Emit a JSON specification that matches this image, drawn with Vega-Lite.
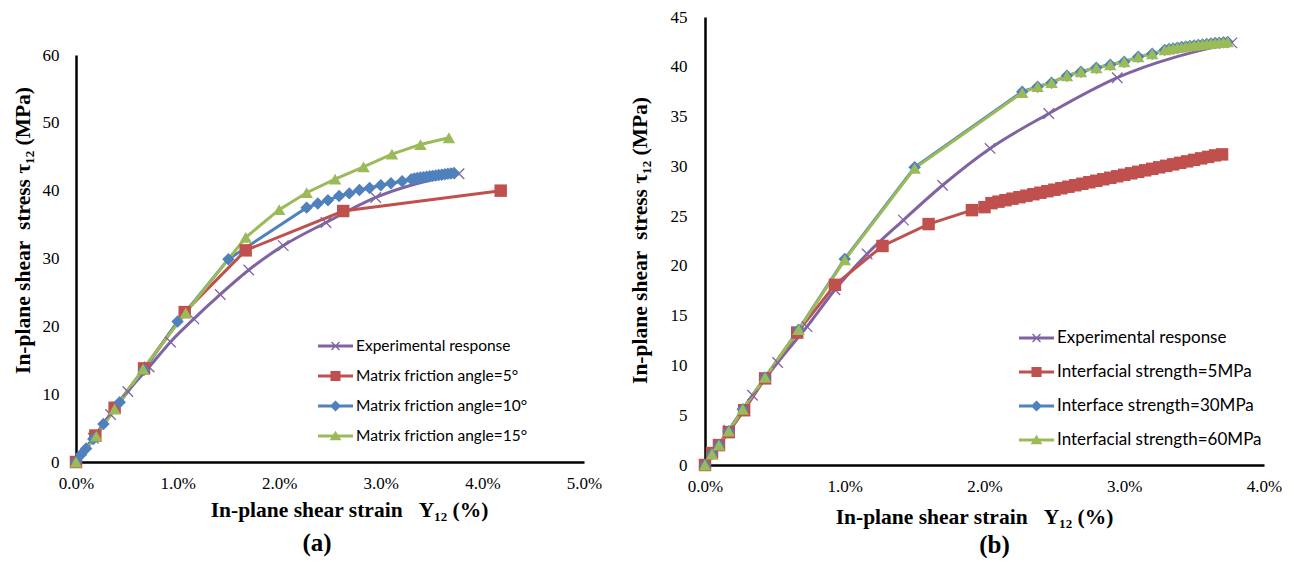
{
  "$schema": "https://vega.github.io/schema/vega-lite/v6.json",
  "background": "white",
  "padding": {"left": 12, "top": 8, "right": 0, "bottom": 0},
  "spacing": 27,
  "resolve": {"scale": {"color": "independent", "shape": "independent"}, "legend": {"color": "independent"}},
  "config": {
    "view": {"stroke": null},
    "axis": {
      "domainColor": "#000", "domainWidth": 2.5, "ticks": false, "grid": false,
      "labelFont": "Liberation Serif", "labelFontSize": 17, "labelColor": "#000",
      "labelFlush": false, "labelOverlap": false,
      "titleFont": "Liberation Serif, DejaVu Serif", "titleFontSize": 21.5, "titleFontWeight": "bold", "titleColor": "#000"
    },
    "title": {"font": "Liberation Serif", "fontWeight": "bold", "color": "#000"}
  },
  "datasets": {
    "a": [
      {"series": "Experimental response", "strain": 0, "stress": 0},
      {"series": "Experimental response", "strain": 0.17, "stress": 3.5},
      {"series": "Experimental response", "strain": 0.34, "stress": 7.0},
      {"series": "Experimental response", "strain": 0.51, "stress": 10.4},
      {"series": "Experimental response", "strain": 0.72, "stress": 14.0},
      {"series": "Experimental response", "strain": 0.93, "stress": 17.7},
      {"series": "Experimental response", "strain": 1.16, "stress": 21.1},
      {"series": "Experimental response", "strain": 1.42, "stress": 24.7},
      {"series": "Experimental response", "strain": 1.70, "stress": 28.3},
      {"series": "Experimental response", "strain": 2.04, "stress": 31.9},
      {"series": "Experimental response", "strain": 2.46, "stress": 35.3},
      {"series": "Experimental response", "strain": 2.95, "stress": 39.0},
      {"series": "Experimental response", "strain": 3.77, "stress": 42.5},
      {"series": "Matrix friction angle=5°", "strain": 0, "stress": 0},
      {"series": "Matrix friction angle=5°", "strain": 0.19, "stress": 3.9},
      {"series": "Matrix friction angle=5°", "strain": 0.38, "stress": 8.0},
      {"series": "Matrix friction angle=5°", "strain": 0.67, "stress": 13.8},
      {"series": "Matrix friction angle=5°", "strain": 1.07, "stress": 22.1},
      {"series": "Matrix friction angle=5°", "strain": 1.67, "stress": 31.2},
      {"series": "Matrix friction angle=5°", "strain": 2.63, "stress": 37.0},
      {"series": "Matrix friction angle=5°", "strain": 4.18, "stress": 40.0},
      {"series": "Matrix friction angle=10°", "strain": 0, "stress": 0},
      {"series": "Matrix friction angle=10°", "strain": 0.05, "stress": 1.1},
      {"series": "Matrix friction angle=10°", "strain": 0.1, "stress": 2.0},
      {"series": "Matrix friction angle=10°", "strain": 0.17, "stress": 3.4},
      {"series": "Matrix friction angle=10°", "strain": 0.27, "stress": 5.6},
      {"series": "Matrix friction angle=10°", "strain": 0.43, "stress": 8.8},
      {"series": "Matrix friction angle=10°", "strain": 0.67, "stress": 13.6},
      {"series": "Matrix friction angle=10°", "strain": 1.0, "stress": 20.7},
      {"series": "Matrix friction angle=10°", "strain": 1.5, "stress": 29.9},
      {"series": "Matrix friction angle=10°", "strain": 2.27, "stress": 37.5},
      {"series": "Matrix friction angle=10°", "strain": 2.38, "stress": 38.1},
      {"series": "Matrix friction angle=10°", "strain": 2.48, "stress": 38.6},
      {"series": "Matrix friction angle=10°", "strain": 2.59, "stress": 39.2},
      {"series": "Matrix friction angle=10°", "strain": 2.69, "stress": 39.6},
      {"series": "Matrix friction angle=10°", "strain": 2.79, "stress": 40.1},
      {"series": "Matrix friction angle=10°", "strain": 2.89, "stress": 40.4},
      {"series": "Matrix friction angle=10°", "strain": 3.0, "stress": 40.8},
      {"series": "Matrix friction angle=10°", "strain": 3.1, "stress": 41.1},
      {"series": "Matrix friction angle=10°", "strain": 3.21, "stress": 41.4},
      {"series": "Matrix friction angle=10°", "strain": 3.30, "stress": 41.7},
      {"series": "Matrix friction angle=10°", "strain": 3.33, "stress": 41.8},
      {"series": "Matrix friction angle=10°", "strain": 3.36, "stress": 41.87},
      {"series": "Matrix friction angle=10°", "strain": 3.39, "stress": 41.94},
      {"series": "Matrix friction angle=10°", "strain": 3.42, "stress": 42.0},
      {"series": "Matrix friction angle=10°", "strain": 3.45, "stress": 42.06},
      {"series": "Matrix friction angle=10°", "strain": 3.48, "stress": 42.12},
      {"series": "Matrix friction angle=10°", "strain": 3.51, "stress": 42.18},
      {"series": "Matrix friction angle=10°", "strain": 3.54, "stress": 42.24},
      {"series": "Matrix friction angle=10°", "strain": 3.57, "stress": 42.3},
      {"series": "Matrix friction angle=10°", "strain": 3.60, "stress": 42.36},
      {"series": "Matrix friction angle=10°", "strain": 3.63, "stress": 42.42},
      {"series": "Matrix friction angle=10°", "strain": 3.66, "stress": 42.48},
      {"series": "Matrix friction angle=10°", "strain": 3.69, "stress": 42.54},
      {"series": "Matrix friction angle=10°", "strain": 3.72, "stress": 42.6},
      {"series": "Matrix friction angle=15°", "strain": 0, "stress": 0},
      {"series": "Matrix friction angle=15°", "strain": 0.2, "stress": 3.8},
      {"series": "Matrix friction angle=15°", "strain": 0.38, "stress": 7.8},
      {"series": "Matrix friction angle=15°", "strain": 0.66, "stress": 13.7},
      {"series": "Matrix friction angle=15°", "strain": 1.08, "stress": 22.0},
      {"series": "Matrix friction angle=15°", "strain": 1.67, "stress": 33.1},
      {"series": "Matrix friction angle=15°", "strain": 2.0, "stress": 37.2},
      {"series": "Matrix friction angle=15°", "strain": 2.27, "stress": 39.7},
      {"series": "Matrix friction angle=15°", "strain": 2.55, "stress": 41.7},
      {"series": "Matrix friction angle=15°", "strain": 2.83, "stress": 43.5},
      {"series": "Matrix friction angle=15°", "strain": 3.11, "stress": 45.4},
      {"series": "Matrix friction angle=15°", "strain": 3.39, "stress": 46.8},
      {"series": "Matrix friction angle=15°", "strain": 3.67, "stress": 47.8}
    ],
    "b": [
      {"series": "Experimental response", "strain": 0, "stress": 0},
      {"series": "Experimental response", "strain": 0.17, "stress": 3.5},
      {"series": "Experimental response", "strain": 0.34, "stress": 7.0},
      {"series": "Experimental response", "strain": 0.52, "stress": 10.3},
      {"series": "Experimental response", "strain": 0.73, "stress": 13.9},
      {"series": "Experimental response", "strain": 0.93, "stress": 17.6},
      {"series": "Experimental response", "strain": 1.16, "stress": 21.2},
      {"series": "Experimental response", "strain": 1.42, "stress": 24.6},
      {"series": "Experimental response", "strain": 1.70, "stress": 28.1},
      {"series": "Experimental response", "strain": 2.04, "stress": 31.8},
      {"series": "Experimental response", "strain": 2.46, "stress": 35.3},
      {"series": "Experimental response", "strain": 2.95, "stress": 38.9},
      {"series": "Experimental response", "strain": 3.77, "stress": 42.4},
      {"series": "Interfacial strength=5MPa", "strain": 0, "stress": 0},
      {"series": "Interfacial strength=5MPa", "strain": 0.05, "stress": 1.2},
      {"series": "Interfacial strength=5MPa", "strain": 0.1, "stress": 2.0},
      {"series": "Interfacial strength=5MPa", "strain": 0.17, "stress": 3.3},
      {"series": "Interfacial strength=5MPa", "strain": 0.28, "stress": 5.5},
      {"series": "Interfacial strength=5MPa", "strain": 0.43, "stress": 8.7},
      {"series": "Interfacial strength=5MPa", "strain": 0.66, "stress": 13.3},
      {"series": "Interfacial strength=5MPa", "strain": 0.93, "stress": 18.1},
      {"series": "Interfacial strength=5MPa", "strain": 1.27, "stress": 22.0},
      {"series": "Interfacial strength=5MPa", "strain": 1.6, "stress": 24.2},
      {"series": "Interfacial strength=5MPa", "strain": 1.91, "stress": 25.6},
      {"series": "Interfacial strength=5MPa", "strain": 2.0, "stress": 25.9},
      {"series": "Interfacial strength=5MPa", "strain": 2.05, "stress": 26.3},
      {"series": "Interfacial strength=5MPa", "strain": 2.10, "stress": 26.45},
      {"series": "Interfacial strength=5MPa", "strain": 2.15, "stress": 26.6},
      {"series": "Interfacial strength=5MPa", "strain": 2.20, "stress": 26.75},
      {"series": "Interfacial strength=5MPa", "strain": 2.25, "stress": 26.9},
      {"series": "Interfacial strength=5MPa", "strain": 2.30, "stress": 27.05},
      {"series": "Interfacial strength=5MPa", "strain": 2.35, "stress": 27.2},
      {"series": "Interfacial strength=5MPa", "strain": 2.40, "stress": 27.35},
      {"series": "Interfacial strength=5MPa", "strain": 2.45, "stress": 27.5},
      {"series": "Interfacial strength=5MPa", "strain": 2.50, "stress": 27.65},
      {"series": "Interfacial strength=5MPa", "strain": 2.55, "stress": 27.8},
      {"series": "Interfacial strength=5MPa", "strain": 2.60, "stress": 27.95},
      {"series": "Interfacial strength=5MPa", "strain": 2.65, "stress": 28.1},
      {"series": "Interfacial strength=5MPa", "strain": 2.70, "stress": 28.25},
      {"series": "Interfacial strength=5MPa", "strain": 2.75, "stress": 28.4},
      {"series": "Interfacial strength=5MPa", "strain": 2.80, "stress": 28.55},
      {"series": "Interfacial strength=5MPa", "strain": 2.85, "stress": 28.7},
      {"series": "Interfacial strength=5MPa", "strain": 2.90, "stress": 28.85},
      {"series": "Interfacial strength=5MPa", "strain": 2.95, "stress": 29.0},
      {"series": "Interfacial strength=5MPa", "strain": 3.00, "stress": 29.15},
      {"series": "Interfacial strength=5MPa", "strain": 3.05, "stress": 29.3},
      {"series": "Interfacial strength=5MPa", "strain": 3.10, "stress": 29.45},
      {"series": "Interfacial strength=5MPa", "strain": 3.15, "stress": 29.6},
      {"series": "Interfacial strength=5MPa", "strain": 3.20, "stress": 29.75},
      {"series": "Interfacial strength=5MPa", "strain": 3.25, "stress": 29.9},
      {"series": "Interfacial strength=5MPa", "strain": 3.30, "stress": 30.05},
      {"series": "Interfacial strength=5MPa", "strain": 3.35, "stress": 30.2},
      {"series": "Interfacial strength=5MPa", "strain": 3.40, "stress": 30.35},
      {"series": "Interfacial strength=5MPa", "strain": 3.45, "stress": 30.5},
      {"series": "Interfacial strength=5MPa", "strain": 3.50, "stress": 30.65},
      {"series": "Interfacial strength=5MPa", "strain": 3.55, "stress": 30.8},
      {"series": "Interfacial strength=5MPa", "strain": 3.60, "stress": 30.95},
      {"series": "Interfacial strength=5MPa", "strain": 3.65, "stress": 31.1},
      {"series": "Interfacial strength=5MPa", "strain": 3.70, "stress": 31.2},
      {"series": "Interface strength=30MPa", "strain": 0, "stress": 0},
      {"series": "Interface strength=30MPa", "strain": 0.05, "stress": 1.1},
      {"series": "Interface strength=30MPa", "strain": 0.1, "stress": 2.0},
      {"series": "Interface strength=30MPa", "strain": 0.17, "stress": 3.4},
      {"series": "Interface strength=30MPa", "strain": 0.27, "stress": 5.6},
      {"series": "Interface strength=30MPa", "strain": 0.43, "stress": 8.8},
      {"series": "Interface strength=30MPa", "strain": 0.67, "stress": 13.6},
      {"series": "Interface strength=30MPa", "strain": 1.0, "stress": 20.7},
      {"series": "Interface strength=30MPa", "strain": 1.5, "stress": 29.9},
      {"series": "Interface strength=30MPa", "strain": 2.27, "stress": 37.5},
      {"series": "Interface strength=30MPa", "strain": 2.38, "stress": 38.0},
      {"series": "Interface strength=30MPa", "strain": 2.48, "stress": 38.4},
      {"series": "Interface strength=30MPa", "strain": 2.59, "stress": 39.1},
      {"series": "Interface strength=30MPa", "strain": 2.69, "stress": 39.5},
      {"series": "Interface strength=30MPa", "strain": 2.80, "stress": 39.9},
      {"series": "Interface strength=30MPa", "strain": 2.90, "stress": 40.2},
      {"series": "Interface strength=30MPa", "strain": 3.0, "stress": 40.5},
      {"series": "Interface strength=30MPa", "strain": 3.1, "stress": 41.0},
      {"series": "Interface strength=30MPa", "strain": 3.2, "stress": 41.3},
      {"series": "Interface strength=30MPa", "strain": 3.29, "stress": 41.7},
      {"series": "Interface strength=30MPa", "strain": 3.32, "stress": 41.78},
      {"series": "Interface strength=30MPa", "strain": 3.35, "stress": 41.85},
      {"series": "Interface strength=30MPa", "strain": 3.38, "stress": 41.92},
      {"series": "Interface strength=30MPa", "strain": 3.41, "stress": 41.98},
      {"series": "Interface strength=30MPa", "strain": 3.44, "stress": 42.04},
      {"series": "Interface strength=30MPa", "strain": 3.47, "stress": 42.1},
      {"series": "Interface strength=30MPa", "strain": 3.50, "stress": 42.15},
      {"series": "Interface strength=30MPa", "strain": 3.53, "stress": 42.2},
      {"series": "Interface strength=30MPa", "strain": 3.56, "stress": 42.25},
      {"series": "Interface strength=30MPa", "strain": 3.59, "stress": 42.3},
      {"series": "Interface strength=30MPa", "strain": 3.62, "stress": 42.35},
      {"series": "Interface strength=30MPa", "strain": 3.65, "stress": 42.38},
      {"series": "Interface strength=30MPa", "strain": 3.68, "stress": 42.42},
      {"series": "Interface strength=30MPa", "strain": 3.71, "stress": 42.46},
      {"series": "Interface strength=30MPa", "strain": 3.74, "stress": 42.5},
      {"series": "Interfacial strength=60MPa", "strain": 0, "stress": 0},
      {"series": "Interfacial strength=60MPa", "strain": 0.05, "stress": 1.1},
      {"series": "Interfacial strength=60MPa", "strain": 0.1, "stress": 2.0},
      {"series": "Interfacial strength=60MPa", "strain": 0.17, "stress": 3.4},
      {"series": "Interfacial strength=60MPa", "strain": 0.27, "stress": 5.6},
      {"series": "Interfacial strength=60MPa", "strain": 0.43, "stress": 8.8},
      {"series": "Interfacial strength=60MPa", "strain": 0.67, "stress": 13.6},
      {"series": "Interfacial strength=60MPa", "strain": 1.0, "stress": 20.6},
      {"series": "Interfacial strength=60MPa", "strain": 1.5, "stress": 29.8},
      {"series": "Interfacial strength=60MPa", "strain": 2.27, "stress": 37.4},
      {"series": "Interfacial strength=60MPa", "strain": 2.38, "stress": 38.0},
      {"series": "Interfacial strength=60MPa", "strain": 2.48, "stress": 38.4},
      {"series": "Interfacial strength=60MPa", "strain": 2.59, "stress": 39.1},
      {"series": "Interfacial strength=60MPa", "strain": 2.69, "stress": 39.5},
      {"series": "Interfacial strength=60MPa", "strain": 2.80, "stress": 39.9},
      {"series": "Interfacial strength=60MPa", "strain": 2.90, "stress": 40.2},
      {"series": "Interfacial strength=60MPa", "strain": 3.0, "stress": 40.5},
      {"series": "Interfacial strength=60MPa", "strain": 3.1, "stress": 41.0},
      {"series": "Interfacial strength=60MPa", "strain": 3.2, "stress": 41.3},
      {"series": "Interfacial strength=60MPa", "strain": 3.29, "stress": 41.7},
      {"series": "Interfacial strength=60MPa", "strain": 3.32, "stress": 41.78},
      {"series": "Interfacial strength=60MPa", "strain": 3.35, "stress": 41.85},
      {"series": "Interfacial strength=60MPa", "strain": 3.38, "stress": 41.92},
      {"series": "Interfacial strength=60MPa", "strain": 3.41, "stress": 41.98},
      {"series": "Interfacial strength=60MPa", "strain": 3.44, "stress": 42.04},
      {"series": "Interfacial strength=60MPa", "strain": 3.47, "stress": 42.1},
      {"series": "Interfacial strength=60MPa", "strain": 3.50, "stress": 42.15},
      {"series": "Interfacial strength=60MPa", "strain": 3.53, "stress": 42.2},
      {"series": "Interfacial strength=60MPa", "strain": 3.56, "stress": 42.25},
      {"series": "Interfacial strength=60MPa", "strain": 3.59, "stress": 42.3},
      {"series": "Interfacial strength=60MPa", "strain": 3.62, "stress": 42.35},
      {"series": "Interfacial strength=60MPa", "strain": 3.65, "stress": 42.38},
      {"series": "Interfacial strength=60MPa", "strain": 3.68, "stress": 42.42},
      {"series": "Interfacial strength=60MPa", "strain": 3.71, "stress": 42.46},
      {"series": "Interfacial strength=60MPa", "strain": 3.74, "stress": 42.5}
    ]
  },
  "hconcat": [
    {
      "width": 508,
      "height": 445,
      "title": {"text": "(a)", "orient": "bottom", "fontSize": 25, "offset": 10, "dx": -13},
      "data": {"name": "a"},
      "encoding": {
        "x": {"field": "strain", "type": "quantitative",
          "scale": {"domain": [0, 5], "nice": false},
          "axis": {"values": [0, 1, 2, 3, 4, 5], "labelExpr": "format(datum.value, '.1f') + '%'", "labelPadding": 13,
            "title": "In-plane shear strain\u00a0\u00a0 Υ₁₂ (%)", "titleX": 273, "titleY": 48, "titleBaseline": "middle", "titleAlign": "center"}},
        "y": {"field": "stress", "type": "quantitative",
          "scale": {"domain": [0, 60], "nice": false, "range": [445, 38]},
          "axis": {"values": [0, 10, 20, 30, 40, 50, 60], "labelPadding": 17,
            "title": "In-plane shear\u00a0\u00a0stress τ₁₂ (MPa)", "titleX": -53, "titleY": 213, "titleBaseline": "middle", "titleAlign": "center", "titleAngle": -90}},
        "color": {"field": "series", "type": "nominal",
          "scale": {"domain": ["Experimental response", "Matrix friction angle=5°", "Matrix friction angle=10°", "Matrix friction angle=15°"],
                    "range": ["#8064A2", "#C0504D", "#4F81BD", "#9BBB59"]},
          "legend": {"orient": "none", "legendX": 245.5, "legendY": 315, "title": null, "padding": 0,
            "symbolSize": 784, "rowPadding": 7, "labelOffset": 6.5, "labelFont": "Lato", "labelFontSize": 15.5, "labelColor": "#000", "labelLimit": 0,
            "symbolStrokeWidth": 0, "symbolOpacity": 1,
            "encode": {"symbols": {"update": {
              "shape": {"signal": "datum.index === 0 ? 'M-1.25,-0.107H1.25V0.107H-1.25Z M-0.32,-0.25L-0.25,-0.32L0.32,0.25L0.25,0.32Z M0.25,-0.32L0.32,-0.25L-0.25,0.32L-0.32,0.25Z' : datum.index === 1 ? 'M-1.25,-0.107H1.25V0.107H-1.25Z M-0.36,-0.36H0.36V0.36H-0.36Z' : datum.index === 2 ? 'M-1.25,-0.107H1.25V0.107H-1.25Z M0,-0.4L0.4,0L0,0.4L-0.4,0Z' : 'M-1.25,-0.107H1.25V0.107H-1.25Z M0,-0.38L0.42,0.3H-0.42Z'"},
              "fill": {"signal": "['#8064A2', '#C0504D', '#4F81BD', '#9BBB59'][datum.index]"},
              "strokeWidth": {"value": 0},
              "opacity": {"value": 1}
            }}}}
        }
      },
      "layer": [
        {"transform": [{"filter": "datum.series === 'Experimental response'"}],
         "mark": {"type": "line", "interpolate": "monotone", "strokeWidth": 3},
         "encoding": {"order": {"field": "strain", "type": "quantitative"}}},
        {"transform": [{"filter": "datum.series !== 'Experimental response'"}],
         "mark": {"type": "line", "strokeWidth": 3},
         "encoding": {"order": {"field": "strain", "type": "quantitative"}}},
        {"transform": [{"filter": "datum.series === 'Experimental response'"}],
         "mark": {"type": "point", "shape": "M-1,-1L1,1M-1,1L1,-1", "size": 110, "strokeWidth": 1.3, "filled": false, "opacity": 1},
         "encoding": {"color": {"field": "series", "type": "nominal", "legend": null}}},
        {"transform": [{"filter": "datum.series !== 'Experimental response'"}],
         "mark": {"type": "point", "filled": true, "opacity": 1, "size": 155},
         "encoding": {
           "color": {"field": "series", "type": "nominal", "legend": null},
           "shape": {"field": "series", "type": "nominal", "legend": null,
             "scale": {"domain": ["Matrix friction angle=5°", "Matrix friction angle=10°", "Matrix friction angle=15°"], "range": ["square", "diamond", "triangle-up"]}}}}
      ]
    },
    {
      "width": 559,
      "height": 448,
      "title": {"text": "(b)", "orient": "bottom", "fontSize": 25, "offset": 5, "dx": 10},
      "data": {"name": "b"},
      "encoding": {
        "x": {"field": "strain", "type": "quantitative",
          "scale": {"domain": [0, 4], "nice": false},
          "axis": {"values": [0, 1, 2, 3, 4], "labelExpr": "format(datum.value, '.1f') + '%'", "labelPadding": 13,
            "title": "In-plane shear strain\u00a0\u00a0 Υ₁₂ (%)", "titleX": 269, "titleY": 52, "titleBaseline": "middle", "titleAlign": "center"}},
        "y": {"field": "stress", "type": "quantitative",
          "scale": {"domain": [0, 45], "nice": false},
          "axis": {"values": [0, 5, 10, 15, 20, 25, 30, 35, 40, 45], "labelPadding": 18,
            "title": "In-plane shear\u00a0\u00a0stress τ₁₂ (MPa)", "titleX": -65, "titleY": 223, "titleBaseline": "middle", "titleAlign": "center", "titleAngle": -90}},
        "color": {"field": "series", "type": "nominal",
          "scale": {"domain": ["Experimental response", "Interfacial strength=5MPa", "Interface strength=30MPa", "Interfacial strength=60MPa"],
                    "range": ["#8064A2", "#C0504D", "#4F81BD", "#9BBB59"]},
          "legend": {"orient": "none", "legendX": 317.5, "legendY": 307, "title": null, "padding": 0,
            "symbolSize": 784, "rowPadding": 12, "labelOffset": 6.5, "labelFont": "Lato", "labelFontSize": 17, "labelColor": "#000", "labelLimit": 0,
            "symbolStrokeWidth": 0, "symbolOpacity": 1,
            "encode": {"symbols": {"update": {
              "shape": {"signal": "datum.index === 0 ? 'M-1.25,-0.107H1.25V0.107H-1.25Z M-0.32,-0.25L-0.25,-0.32L0.32,0.25L0.25,0.32Z M0.25,-0.32L0.32,-0.25L-0.25,0.32L-0.32,0.25Z' : datum.index === 1 ? 'M-1.25,-0.107H1.25V0.107H-1.25Z M-0.36,-0.36H0.36V0.36H-0.36Z' : datum.index === 2 ? 'M-1.25,-0.107H1.25V0.107H-1.25Z M0,-0.4L0.4,0L0,0.4L-0.4,0Z' : 'M-1.25,-0.107H1.25V0.107H-1.25Z M0,-0.38L0.42,0.3H-0.42Z'"},
              "fill": {"signal": "['#8064A2', '#C0504D', '#4F81BD', '#9BBB59'][datum.index]"},
              "strokeWidth": {"value": 0},
              "opacity": {"value": 1}
            }}}}
        }
      },
      "layer": [
        {"transform": [{"filter": "datum.series === 'Experimental response'"}],
         "mark": {"type": "line", "interpolate": "monotone", "strokeWidth": 3},
         "encoding": {"order": {"field": "strain", "type": "quantitative"}}},
        {"transform": [{"filter": "datum.series !== 'Experimental response'"}],
         "mark": {"type": "line", "strokeWidth": 3},
         "encoding": {"order": {"field": "strain", "type": "quantitative"}}},
        {"transform": [{"filter": "datum.series === 'Experimental response'"}],
         "mark": {"type": "point", "shape": "M-1,-1L1,1M-1,1L1,-1", "size": 110, "strokeWidth": 1.3, "filled": false, "opacity": 1},
         "encoding": {"color": {"field": "series", "type": "nominal", "legend": null}}},
        {"transform": [{"filter": "datum.series !== 'Experimental response'"}],
         "mark": {"type": "point", "filled": true, "opacity": 1, "size": 155},
         "encoding": {
           "color": {"field": "series", "type": "nominal", "legend": null},
           "shape": {"field": "series", "type": "nominal", "legend": null,
             "scale": {"domain": ["Interfacial strength=5MPa", "Interface strength=30MPa", "Interfacial strength=60MPa"], "range": ["square", "diamond", "triangle-up"]}}}}
      ]
    }
  ]
}
